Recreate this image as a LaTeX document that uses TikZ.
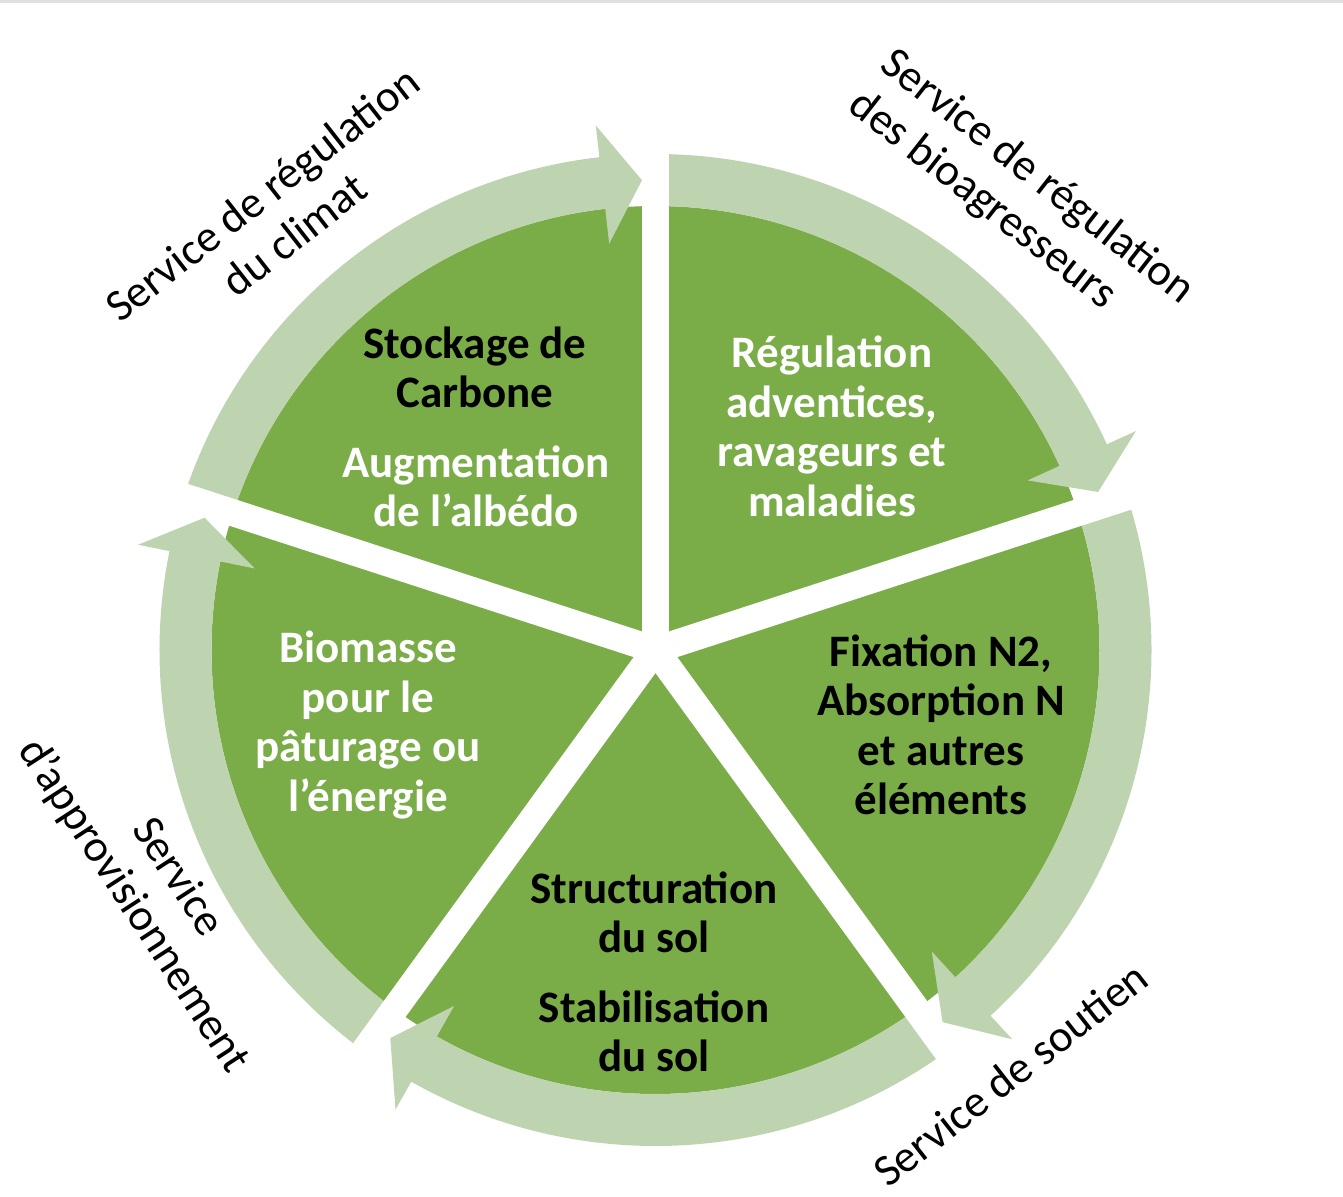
\documentclass[tikz,border=0pt]{standalone}
\usepackage{fontspec}
\setmainfont{Carlito}
\usepackage{tikz}
\definecolor{leaf}{HTML}{7AAD48}
\definecolor{pale}{HTML}{BED4B0}
\tikzset{
  pie/.style={fill=leaf},
  ring/.style={fill=pale},
  gap/.style={draw=white, line width=13.5pt},
  segtxt/.style={align=center, font=\fontsize{22.5}{24.75}\selectfont\bfseries, inner sep=0pt},
  svc/.style={align=center, font=\fontsize{22.5}{26}\selectfont, inner sep=0pt}
}

\begin{document}
\begin{tikzpicture}[x=0.5pt, y=0.5pt]
  \useasboundingbox (-655.5,-546) rectangle (687.5,650);
  \draw[black!12, line width=1.5pt] (-655.5,649) -- (687.5,649);
  % pie
  \fill[pie] (0,0) circle[radius=444];
  % ring arrows, clockwise
  \fill[ring] (90:444) arc[start angle=90, end angle=24.5, radius=444] -- (24.5:409) -- (19.65:470) -- (24.5:528) -- (24.5:496) arc[start angle=24.5, end angle=90, radius=496] -- cycle;
  \fill[ring] (18:444) arc[start angle=18, end angle=-47.5, radius=444] -- (-47.5:409) -- (-52.35:470) -- (-47.5:528) -- (-47.5:496) arc[start angle=-47.5, end angle=18, radius=496] -- cycle;
  \fill[ring] (-54:444) arc[start angle=-54, end angle=-119.5, radius=444] -- (-119.5:409) -- (-124.35:470) -- (-119.5:528) -- (-119.5:496) arc[start angle=-119.5, end angle=-54, radius=496] -- cycle;
  \fill[ring] (-126:444) arc[start angle=-126, end angle=-191.5, radius=444] -- (-191.5:409) -- (-196.35:470) -- (-191.5:528) -- (-191.5:496) arc[start angle=-191.5, end angle=-126, radius=496] -- cycle;
  \fill[ring] (162:444) arc[start angle=162, end angle=96.5, radius=444] -- (96.5:409) -- (91.65:470) -- (96.5:528) -- (96.5:496) arc[start angle=96.5, end angle=162, radius=496] -- cycle;
  % gaps
  \draw[gap] (0,0) -- (90:545);
  \draw[gap] (0,0) -- (18:545);
  \draw[gap] (0,0) -- (-54:545);
  \draw[gap] (0,0) -- (-126:545);
  \draw[gap] (0,0) -- (162:545);
  % segment texts
  \node[segtxt] (stock) at (-180.5,282.5) {Stockage de\\Carbone};
  \node[segtxt, text=white] (albedo) at (-179.5,163.5) {Augmentation\\de l’albédo};
  \node[segtxt, text=white] (regul) at (176.5,223.5) {Régulation\\adventices,\\ravageurs et\\maladies};
  \node[segtxt] (fix) at (285.5,-75) {Fixation N2,\\Absorption N\\et autres\\éléments};
  \node[segtxt] (struct) at (-1.5,-262.5) {Structuration\\du sol};
  \node[segtxt] (stab) at (-1.5,-381.5) {Stabilisation\\du sol};
  \node[segtxt, text=white] (bio) at (-287.5,-75) {Biomasse\\pour le\\pâturage ou\\l’énergie};
  % service labels
  \node[svc, rotate=38] (climat) at (-377.5,436) {Service de régulation\\du climat};
  \node[svc, rotate=-38, align=left] (bioag) at (365.5,452) {Service de régulation\\des bioagresseurs};
  \node[svc, rotate=38] (soutien) at (355,-424) {Service de soutien};
  \node[svc, rotate=-57] (appro) at (-500.5,-242) {Service\\d’approvisionnement};
\end{tikzpicture}
\end{document}
